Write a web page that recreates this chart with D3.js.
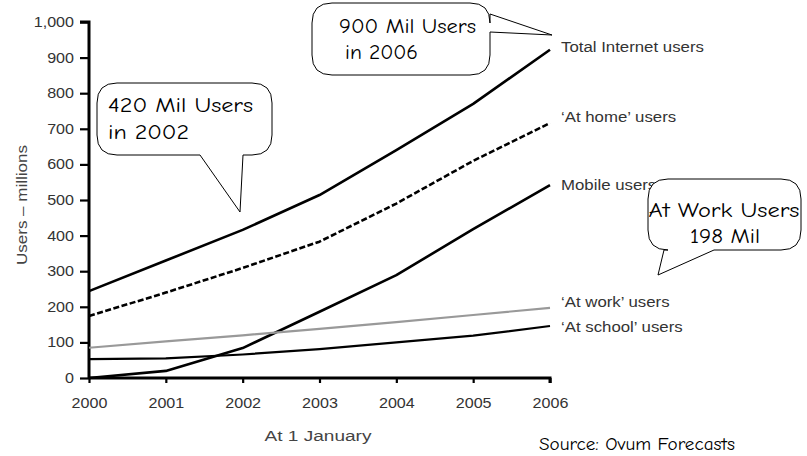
<!DOCTYPE html>
<html><head><meta charset="utf-8">
<script src="https://cdn.jsdelivr.net/npm/d3@7"></script>
<style>
body{margin:0;background:#fff;}
svg{display:block;}
</style></head>
<body><svg id="c" width="807" height="456"></svg>
<script>
const years = [2000, 2001, 2002, 2003, 2004, 2005, 2006];
const totalUsers  = [244, 330, 416, 514, 640, 770, 922];
const homeUsers   = [174, 240, 309, 383, 490, 610, 716];
const mobileUsers = [0, 20, 84, 186, 289, 418, 542];
const workUsers   = [85, 103, 120, 138, 157, 177, 197];
const schoolUsers = [53, 55, 66, 81, 100, 119, 146];
const seriesNames = ["Total Internet users", "\u2018At home\u2019 users", "Mobile users", "\u2018At work\u2019 users", "\u2018At school\u2019 users"];
const yTicks = [0,100,200,300,400,500,600,700,800,900,1000];

const svg = d3.select("#c");
const x = d3.scaleLinear().domain([2000, 2006]).range([89, 550]);
const y = d3.scaleLinear().domain([0, 1000]).range([378, 22]);

const axisFont = "Liberation Sans, Arial, sans-serif";
const comic = "'Comic Sans MS', 'Comic Neue', 'DejaVu Sans', sans-serif";

function stretch(sel, factor) {
  sel.each(function() {
    const w = this.getComputedTextLength();
    d3.select(this).attr("textLength", w * factor).attr("lengthAdjust", "spacingAndGlyphs");
  });
  return sel;
}
function fitTo(sel, width) {
  return sel.attr("textLength", width).attr("lengthAdjust", "spacingAndGlyphs");
}

// axes
const yAxis = svg.append("g").attr("transform", "translate(89,0)")
  .call(d3.axisLeft(y).tickValues(yTicks).tickFormat(d3.format(",")).tickSize(9).tickPadding(6));
const xAxis = svg.append("g").attr("transform", "translate(0,378)")
  .call(d3.axisBottom(x).tickValues(years).tickFormat(d3.format("d")).tickSize(5).tickPadding(15));
[yAxis, xAxis].forEach(g => {
  g.select(".domain").attr("stroke", "#000").attr("stroke-width", 3);
  g.selectAll(".tick line").attr("stroke", "#000").attr("stroke-width", 2.2);
  g.selectAll(".tick text").attr("fill", "#333").style("font-family", axisFont).style("font-size", "14px");
  stretch(g.selectAll(".tick text"), 1.15);
});
yAxis.select(".domain").attr("d", `M-9,${y(1000)}H0V${y(0)}`);
xAxis.select(".domain").attr("d", `M${x(2000)},0H${x(2006)}V5`);

fitTo(svg.append("text").attr("transform", `translate(27,205) rotate(-90)`)
  .attr("text-anchor", "middle").attr("fill", "#444")
  .style("font-family", axisFont).style("font-size", "14px").text("Users \u2013 millions"), 120);
fitTo(svg.append("text").attr("x", 318).attr("y", 441).attr("text-anchor", "middle").attr("fill", "#444")
  .style("font-family", axisFont).style("font-size", "14px").text("At 1 January"), 107);

// lines
const series = [
  {v: totalUsers, color: "#000", w: 2.6, dash: null},
  {v: homeUsers, color: "#000", w: 2.6, dash: "6,2.5"},
  {v: mobileUsers, color: "#000", w: 2.6, dash: null},
  {v: workUsers, color: "#999", w: 2.2, dash: null},
  {v: schoolUsers, color: "#000", w: 2.2, dash: null}
];
const line = d3.line().x((d,i) => x(years[i])).y(d => y(d));
series.forEach((s, k) => {
  svg.append("path").attr("d", line(s.v)).attr("fill", "none")
    .attr("stroke", s.color).attr("stroke-width", s.w)
    .attr("stroke-dasharray", s.dash).attr("stroke-linejoin", "round");
});

// series labels
const labelOffsets = [-3, -6, 0, -6, 1];
series.forEach((s, k) => {
  stretch(svg.append("text").attr("x", x(2006) + 11).attr("y", y(s.v[6]) + labelOffsets[k])
    .attr("dy", "0.35em").attr("fill", "#333")
    .style("font-family", axisFont).style("font-size", "14px").text(seriesNames[k]), 1.2);
});

// callouts
function callout(x0, y0, x1, y1, r, tail) {
  const p = d3.path();
  p.moveTo(x0 + r, y0);
  p.lineTo(x1 - r, y0);
  p.quadraticCurveTo(x1, y0, x1, y0 + r);
  if (tail.side === "right") { p.lineTo(x1, tail.a); p.lineTo(tail.px, tail.py); p.lineTo(x1, tail.b); }
  p.lineTo(x1, y1 - r);
  p.quadraticCurveTo(x1, y1, x1 - r, y1);
  if (tail.side === "bottom") { p.lineTo(tail.b, y1); p.lineTo(tail.px, tail.py); p.lineTo(tail.a, y1); }
  p.lineTo(x0 + r, y1);
  p.quadraticCurveTo(x0, y1, x0, y1 - r);
  p.lineTo(x0, y0 + r);
  p.quadraticCurveTo(x0, y0, x0 + r, y0);
  p.closePath();
  svg.append("path").attr("d", p.toString()).attr("fill", "#fff").attr("stroke", "#000").attr("stroke-width", 1);
}
function ctext(tx, ty, str, size, width, anchor) {
  return fitTo(svg.append("text").attr("x", tx).attr("y", ty).attr("text-anchor", anchor || "start")
    .attr("fill", "#000").style("font-family", comic).style("font-size", size + "px").text(str), width);
}

callout(97, 83, 272, 155, 20, {side: "bottom", a: 200, b: 243, px: 240, py: 212});
ctext(108, 112, "420 Mil Users", 21, 145);
ctext(108, 139, "in 2002", 21, 81);

callout(312, 3, 490, 75, 20, {side: "right", a: 14, b: 32, px: 552, py: 35});
ctext(339, 33, "900 Mil Users", 21, 137);
ctext(345, 59, "in 2006", 21, 73);

callout(648, 179, 801, 250, 20, {side: "bottom", a: 664, b: 714, px: 658, py: 275});
ctext(724, 217, "At Work Users", 21, 151, "middle");
ctext(725, 243, "198 Mil", 21, 70, "middle");

ctext(539, 450, "Source: Ovum Forecasts", 17, 196);
</script></body></html>
